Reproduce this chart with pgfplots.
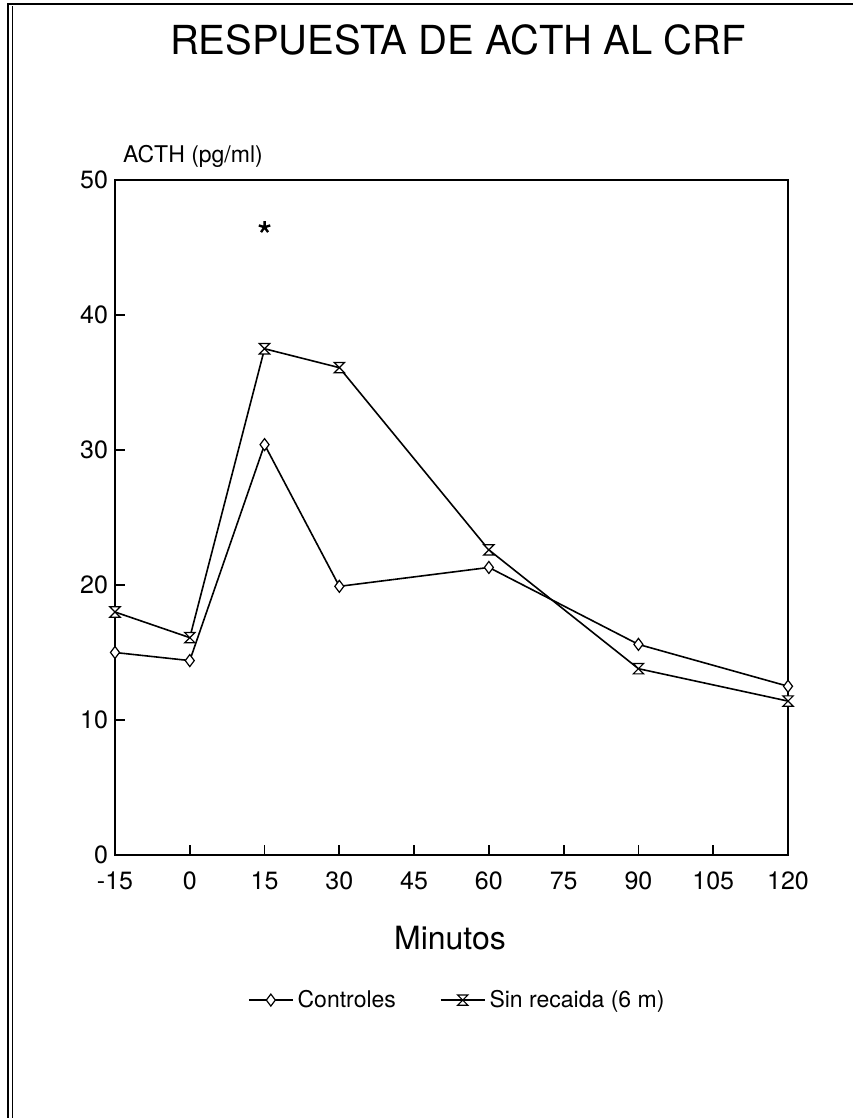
\documentclass[border=0pt]{standalone}
\usepackage{fontspec}
\setmainfont{TeX Gyre Heros}
\usepackage{pgfplots}
\pgfplotsset{compat=1.18}
\pgfdeclareplotmark{hourglass}{%
  \pgfpathmoveto{\pgfqpoint{-\pgfplotmarksize}{\pgfplotmarksize}}%
  \pgfpathlineto{\pgfqpoint{\pgfplotmarksize}{\pgfplotmarksize}}%
  \pgfpathlineto{\pgfqpoint{-\pgfplotmarksize}{-\pgfplotmarksize}}%
  \pgfpathlineto{\pgfqpoint{\pgfplotmarksize}{-\pgfplotmarksize}}%
  \pgfpathclose
  \pgfusepathqfillstroke}
\pgfplotstableread{
x y
-15 15.0
0 14.4
15 30.4
30 19.9
60 21.3
90 15.6
120 12.5
}\controles
\pgfplotstableread{
x y
-15 18.0
0 16.1
15 37.5
30 36.1
60 22.6
90 13.8
120 11.4
}\sinrecaida
\begin{document}
\begin{tikzpicture}
\path[use as bounding box] (0pt,0pt) rectangle (426.5pt,559pt);
\draw[line width=0.8pt] (4pt,0pt) -- (4pt,557pt) -- (426.5pt,557pt);
\draw[line width=0.5pt] (6pt,0pt) -- (6pt,556pt);
\node[font=\fontsize{20}{24}\selectfont] at (229pt,539pt) {RESPUESTA DE ACTH AL CRF};
\node[font=\fontsize{11.5}{14}\selectfont, anchor=base west] at (58pt,477.5pt) {ACTH (pg/ml)};
\node[font=\fontsize{16}{19}\selectfont] at (225pt,90pt) {Minutos};
\begin{axis}[
  at={(57.5pt,131.5pt)}, anchor=south west,
  scale only axis, width=336.5pt, height=337.5pt,
  xmin=-15, xmax=120, ymin=0, ymax=50,
  xtick={-15,0,15,30,45,60,75,90,105,120},
  ytick={0,10,20,30,40,50},
  tick pos=left, tick align=inside, major tick length=5pt,
  axis line style={line width=0.9pt},
  every tick/.style={line width=0.9pt, black},
  ticklabel style={font=\fontsize{12.5}{15}\selectfont},
  /pgf/number format/assume math mode=true,
  xticklabel style={yshift=-5pt},
  legend style={draw=none, at={(0.51,-0.215)}, anchor=center,
    font=\fontsize{11.5}{14}\selectfont, fill=none},
  legend columns=2,
  legend cell align=left,
  /tikz/every even column/.append style={column sep=20pt},
  legend image code/.code={%
    \draw[#1] (0pt,0pt) -- (22pt,0pt);
    \draw[#1, only marks] plot coordinates {(11pt,0pt)};},
]
\addplot[black, line width=0.8pt, mark=diamond*, mark size=3pt,
  mark options={fill=white, line width=0.6pt}] table[x=x,y=y] {\controles};
\addlegendentry{Controles}
\addplot[black, line width=0.8pt, mark=hourglass, mark size=2.6pt,
  mark options={fill=white, line width=0.6pt}] table[x=x,y=y] {\sinrecaida};
\addlegendentry{Sin recaida (6 m)}
\addplot[black, only marks, mark=star, mark size=3pt, line width=1.2pt,
  forget plot] coordinates {(15,46.5)};
\end{axis}
\end{tikzpicture}
\end{document}
